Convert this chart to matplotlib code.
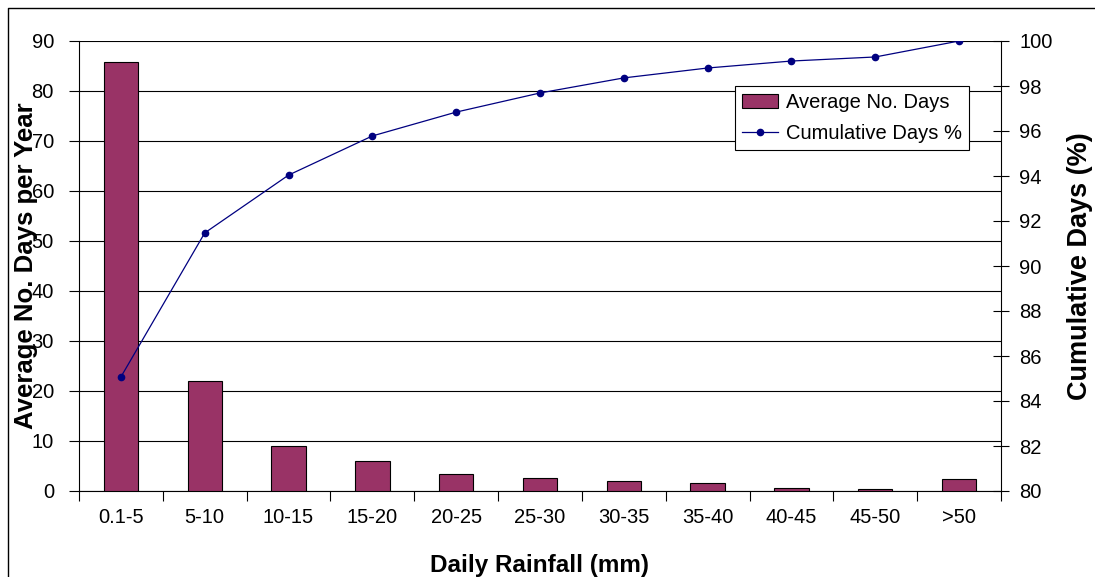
import numpy as np
import matplotlib
matplotlib.use("Agg")
import matplotlib.pyplot as plt
from matplotlib.lines import Line2D

plt.rcParams['font.family'] = ['Liberation Sans', 'DejaVu Sans']

categories = ["0.1-5", "5-10", "10-15", "15-20", "20-25", "25-30",
              "30-35", "35-40", "40-45", "45-50", ">50"]
avg_days = [85.8, 22.0, 9.1, 6.1, 3.5, 2.7, 2.1, 1.7, 0.6, 0.4, 2.4]
cumulative_pct = [85.07, 91.47, 94.04, 95.78, 96.84, 97.69, 98.36, 98.80,
                  99.11, 99.29, 100.0]
left_ticks = list(range(0, 91, 10))
right_ticks = list(range(80, 101, 2))

W, H = 1095, 577
fig = plt.figure(figsize=(W / 100, H / 100), dpi=100)
ax = fig.add_axes([79 / W, 1 - 491 / H, (1001 - 79) / W, (491 - 41) / H])

x = np.arange(len(categories))
bars = ax.bar(x, avg_days, width=0.41, color="#993366", edgecolor="black",
              linewidth=0.8, zorder=3, label="Average No. Days")

ax.set_xlim(-0.5, len(categories) - 0.5)
ax.set_ylim(0, 90)
ax.set_yticks(left_ticks)
ax.yaxis.grid(True, color="black", linewidth=0.8, zorder=0)
ax.set_axisbelow(True)

ax.set_xticks(x)
ax.set_xticklabels(categories, fontsize=14.5)
ax.set_xticks(np.arange(-0.5, len(categories)), minor=True)
ax.tick_params(axis="x", which="major", length=0, pad=12)
ax.tick_params(axis="x", which="minor", length=7, direction="out",
               width=0.8, color="black")
ax.tick_params(axis="y", length=7, direction="out", width=0.8,
               labelsize=14.5, pad=11)

for side in ("top", "right"):
    ax.spines[side].set_visible(False)
for side in ("left", "bottom"):
    ax.spines[side].set_linewidth(0.8)

ax.set_xlabel("Daily Rainfall (mm)", fontsize=17.5, fontweight="bold",
              labelpad=20)
ax.set_ylabel("Average No. Days per Year", fontsize=18.5, fontweight="bold")
ax.yaxis.set_label_coords(-0.045, 0.5)

ax2 = ax.twinx()
line, = ax2.plot(x, cumulative_pct, color="#000080", linewidth=0.9,
                 marker="o", markersize=4.5, label="Cumulative Days %")
ax2.set_ylim(80, 100)
ax2.set_yticks(right_ticks)
ax2.tick_params(axis="y", length=12, direction="inout", width=0.8,
                labelsize=14.5, pad=7)
for side in ("top", "left", "bottom"):
    ax2.spines[side].set_visible(False)
ax2.spines["right"].set_linewidth(0.8)
ax2.set_ylabel("Cumulative Days (%)", fontsize=19.5, fontweight="bold",
               rotation=90)
ax2.yaxis.set_label_coords(1.072, 0.5)

leg = ax2.legend([bars, line], ["Average No. Days", "Cumulative Days %"],
                 loc="upper left",
                 bbox_to_anchor=((735 - 79) / 922, 1 - (86 - 41) / 450),
                 fontsize=14.5, frameon=True, fancybox=False,
                 edgecolor="black", framealpha=1, borderpad=0.35,
                 handlelength=1.8, handletextpad=0.4, labelspacing=0.6,
                 borderaxespad=0)
leg.get_frame().set_linewidth(0.8)

# outer chart border
fig.add_artist(Line2D([8 / W, 8 / W, 1.0], [0.0, 1 - 8 / H, 1 - 8 / H],
                      color="black", linewidth=1.0, transform=fig.transFigure))

fig.savefig("out.png", dpi=100)
